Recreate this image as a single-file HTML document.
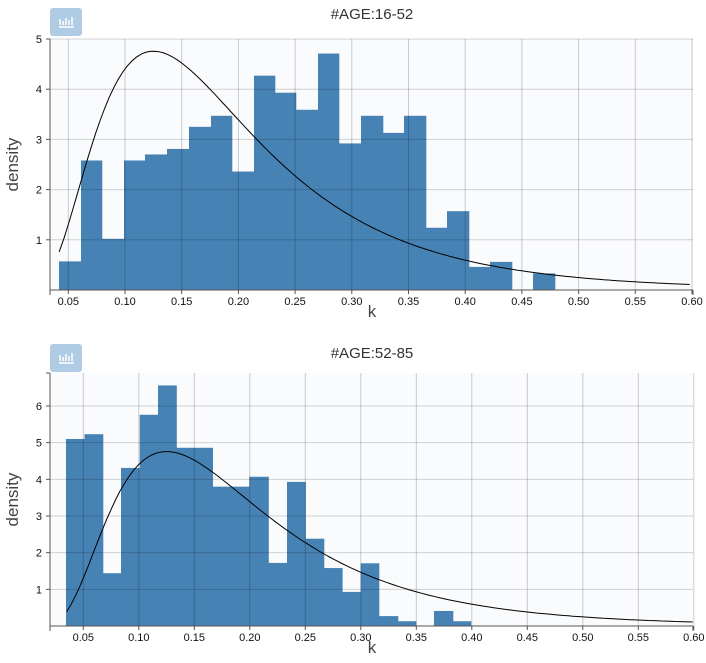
<!DOCTYPE html>
<html><head><meta charset="utf-8">
<style>
body{margin:0;background:#fff;width:706px;height:663px;overflow:hidden}
svg{display:block;font-family:"Liberation Sans",sans-serif}
</style></head><body>
<svg id="s" width="706" height="663" xmlns="http://www.w3.org/2000/svg"></svg>
<script>
var s=document.getElementById('s');var h='';
function lognorm(x){var sg=0.57,mu=-1.754;var d=Math.log(x)-mu;return Math.exp(-d*d/(2*sg*sg))/(x*sg*2.5066);}
function chart(o){
 var L=50,R=693,T=o.top,B=o.bot;
 var X=function(v){return o.x0+v*o.sx};var Y=function(v){return B-v*o.sy};
 h+='<rect x="'+L+'" y="'+T+'" width="'+(R-L)+'" height="'+(B-T)+'" fill="#fafbfd"/>';
 for(var i=0;i<o.h.length;i++){if(o.h[i]<=0)continue;var x1=o.e[i],x2=o.e[i+1];
  h+='<rect x="'+x1+'" y="'+Y(o.h[i])+'" width="'+(x2-x1+0.3)+'" height="'+(o.h[i]*o.sy)+'" fill="#4682b4"/>';}
 for(var t=0.05;t<0.601;t+=0.05){var gx=X(t);h+='<line x1="'+gx+'" y1="'+T+'" x2="'+gx+'" y2="'+B+'" stroke="rgba(0,0,0,0.2)" stroke-width="1"/>';
  h+='<line x1="'+gx+'" y1="'+B+'" x2="'+gx+'" y2="'+(B+4)+'" stroke="#555"/>';
  h+='<text x="'+gx+'" y="'+(B+15)+'" font-size="11" text-anchor="middle" fill="#111">'+t.toFixed(2)+'</text>';}
 for(var k=1;k<=o.ym;k++){var gy=Y(k);h+='<line x1="'+L+'" y1="'+gy+'" x2="'+R+'" y2="'+gy+'" stroke="rgba(0,0,0,0.17)"/>';
  h+='<line x1="'+(L-4)+'" y1="'+gy+'" x2="'+L+'" y2="'+gy+'" stroke="#555"/>';
  h+='<text x="'+(L-8)+'" y="'+(gy+4)+'" font-size="11" text-anchor="end" fill="#111">'+k+'</text>';}
 var p=[];for(var v=o.c0;v<=0.6;v+=0.004){p.push(X(v).toFixed(1)+','+Y(lognorm(v)).toFixed(1));}
 h+='<polyline points="'+p.join(' ')+'" fill="none" stroke="#000" stroke-width="1"/>';
 h+='<line x1="'+L+'" y1="'+T+'" x2="'+L+'" y2="'+B+'" stroke="#555"/>';
 h+='<line x1="'+(L-4)+'" y1="'+T+'" x2="'+L+'" y2="'+T+'" stroke="#555"/>';
 h+='<line x1="'+L+'" y1="'+B+'" x2="'+R+'" y2="'+B+'" stroke="#555"/>';
 h+='<line x1="'+L+'" y1="'+B+'" x2="'+L+'" y2="'+(B+5)+'" stroke="#555"/>';
 h+='<line x1="'+R+'" y1="'+B+'" x2="'+R+'" y2="'+(B+5)+'" stroke="#555"/>';
 h+='<text x="372" y="'+(o.bt)+'" font-size="15" text-anchor="middle" fill="#333">'+o.title+'</text>';
 h+='<text x="372" y="'+(B+27)+'" font-size="17" text-anchor="middle" fill="#444">k</text>';
 var cy=(T+B)/2;h+='<text x="18" y="'+cy+'" font-size="17" text-anchor="middle" fill="#444" transform="rotate(-90 18 '+cy+')">density</text>';
 var by=o.btn;h+='<rect x="50" y="'+by+'" width="32" height="28" rx="3" fill="#b0cce4"/>';
 h+='<g stroke="#fff" stroke-width="1.5"><line x1="59" y1="'+(by+19)+'" x2="74" y2="'+(by+19)+'"/><line x1="60" y1="'+(by+17)+'" x2="60" y2="'+(by+11)+'"/><line x1="63" y1="'+(by+17)+'" x2="63" y2="'+(by+13)+'"/><line x1="66" y1="'+(by+17)+'" x2="66" y2="'+(by+10)+'"/><line x1="69" y1="'+(by+17)+'" x2="69" y2="'+(by+12)+'"/><line x1="72" y1="'+(by+17)+'" x2="72" y2="'+(by+9)+'"/></g>';
}
chart({top:39,bot:290,x0:11.6,sx:1134,sy:50.2,ym:5,c0:0.042,title:"#AGE:16-52",bt:19,btn:8,
 e:[59,81,102,124,145,167,189,211,232,254,275,296,318,339,361,383,404,426,447,469,490,512,533,555],
 h:[0.57,2.58,1.02,2.58,2.70,2.81,3.25,3.47,2.36,4.27,3.93,3.59,4.71,2.92,3.47,3.13,3.47,1.24,1.57,0.46,0.56,0,0.33]});
chart({top:373,bot:626,x0:27.8,sx:1110,sy:36.67,ym:6,c0:0.035,title:"#AGE:52-85",bt:358,btn:344,
 e:[66,84.5,103,121,139.7,158,176.5,194.7,212.7,231,249.3,268.5,287,305.5,324,342.3,360.7,379,398,416,434,453,471],
 h:[5.1,5.23,1.44,4.31,5.76,6.56,4.86,4.86,3.8,3.8,4.07,1.72,3.93,2.38,1.58,0.93,1.71,0.27,0.13,0,0.41,0.13]});
s.innerHTML=h;
</script>
</body></html>
